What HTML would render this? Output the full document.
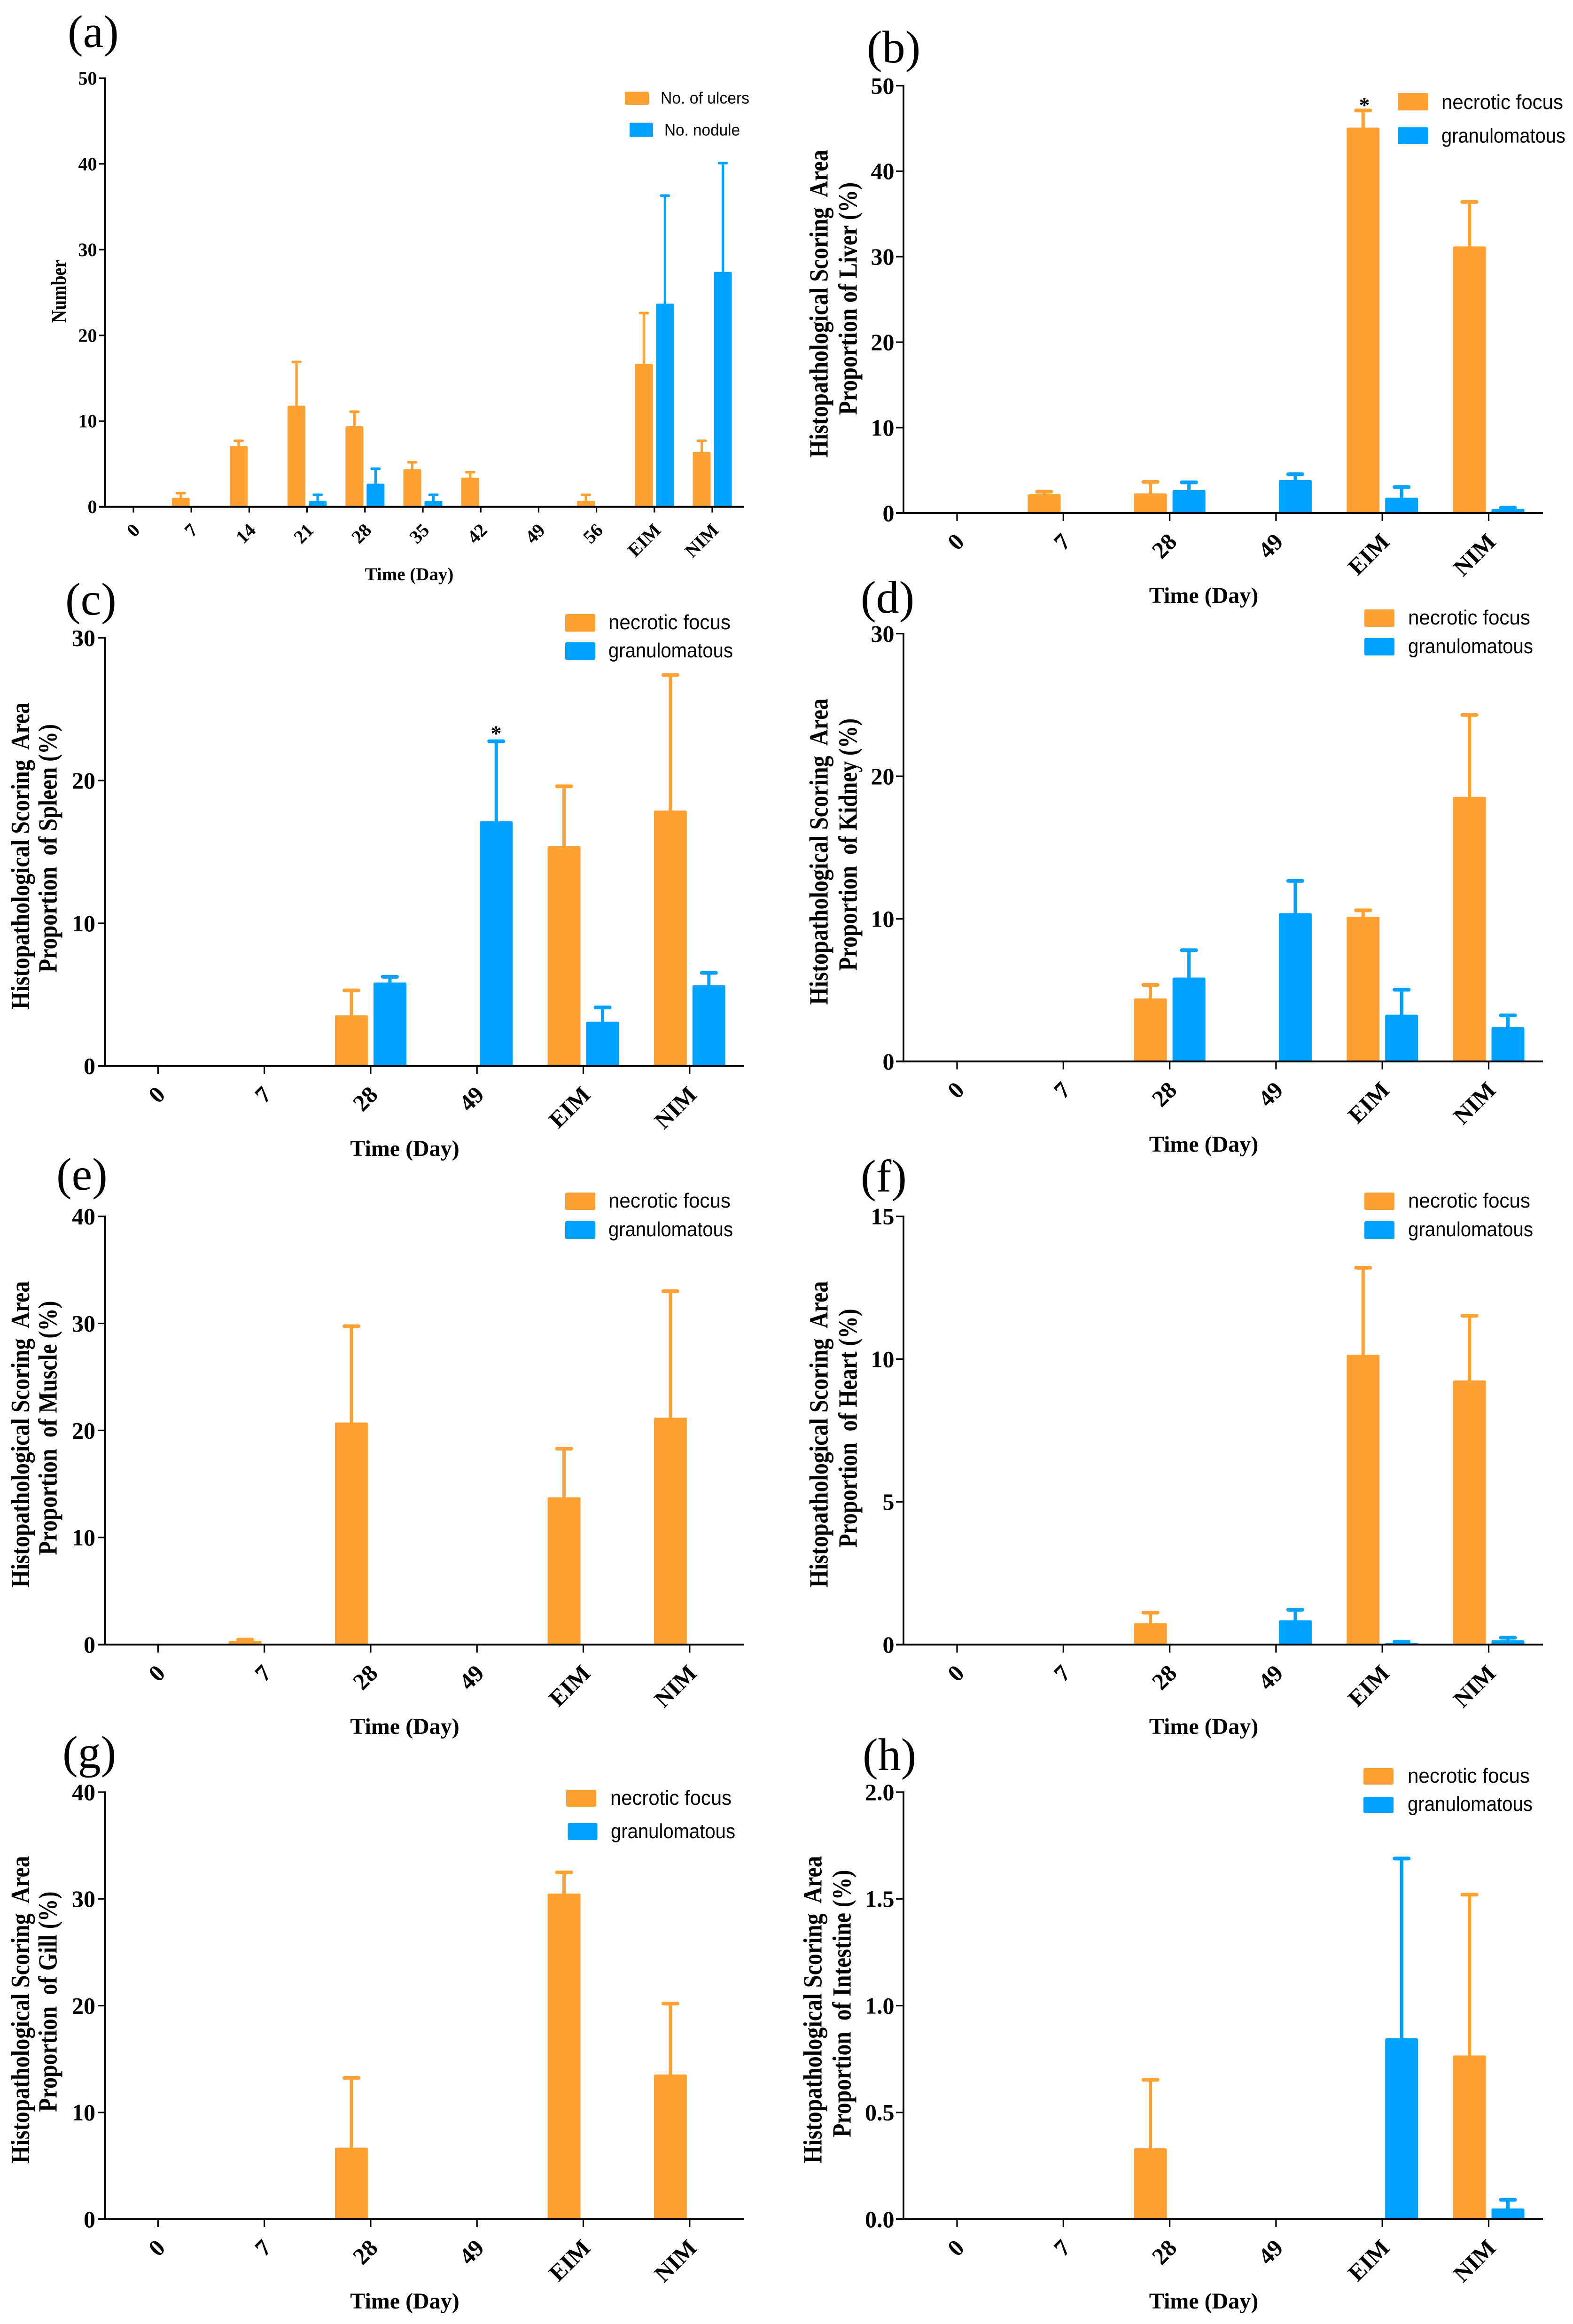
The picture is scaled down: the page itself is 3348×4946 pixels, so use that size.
<!DOCTYPE html>
<html lang="en">
<head>
<meta charset="utf-8">
<title>Ulcer, nodule and histopathological scoring charts</title>
<style>
html,body{margin:0;padding:0;background:#fff;}
svg{display:block;}
text{white-space:pre;}
.serif{font-family:"Liberation Serif",serif;}
.bold{font-weight:bold;fill:#000;}
.sans{font-family:"Liberation Sans",sans-serif;fill:#000;}
</style>
</head>
<body>
<svg id="figure" xmlns="http://www.w3.org/2000/svg" width="3348" height="4946" viewBox="0 0 3348 4946"></svg>
<script>
// ---- Categories and tick labels ----
const daysFull = ['0','7','14','21','28','35','42','49','56','EIM','NIM'];
const daysShort = ['0','7','28','49','EIM','NIM'];
const ticksA = [0,10,20,30,40,50];
const ticksB = [0,10,20,30,40,50];
const ticksC = [0,10,20,30];
const ticksD = [0,10,20,30];
const ticksE = [0,10,20,30,40];
const ticksF = [0,5,10,15];
const ticksG = [0,10,20,30,40];
const ticksH = [0,0.5,1,1.5,2];
const tickLabelsH = ['0.0','0.5','1.0','1.5','2.0'];

// ---- (a) Number of lesions ----
const ulcerMean  = [0,1.05,7.1,11.8,9.4,4.4,3.4,0,0.7,16.7,6.4];
const ulcerUpper = [0,1.6,7.7,16.9,11.1,5.2,4.05,0,1.4,22.6,7.7];
const noduleMean  = [0,0,0,0.7,2.7,0.7,0,0,0,23.7,27.4];
const noduleUpper = [0,0,0,1.4,4.45,1.4,0,0,0,36.3,40.1];

// ---- (b) Liver ----
const liverNecrotic = [0,2.2,2.3,0,45.1,31.2];
const liverNecroticUpper = [0,2.5,3.65,0,47.1,36.4];
const liverGranulomatous = [0,0,2.7,3.87,1.8,0.5];
const liverGranulomatousUpper = [0,0,3.6,4.55,3.05,0.63];

// ---- (c) Spleen ----
const spleenNecrotic = [0,0,3.55,0,15.4,17.9];
const spleenNecroticUpper = [0,0,5.3,0,19.6,27.4];
const spleenGranulomatous = [0,0,5.85,17.15,3.1,5.66];
const spleenGranulomatousUpper = [0,0,6.25,22.75,4.1,6.53];

// ---- (d) Kidney ----
const kidneyNecrotic = [0,0,4.42,0,10.14,18.56];
const kidneyNecroticUpper = [0,0,5.37,0,10.6,24.3];
const kidneyGranulomatous = [0,0,5.88,10.4,3.28,2.4];
const kidneyGranulomatousUpper = [0,0,7.8,12.66,5.03,3.23];

// ---- (e) Muscle ----
const muscleNecrotic = [0,0.35,20.74,0,13.76,21.2];
const muscleNecroticUpper = [0,0.46,29.74,0,18.3,33];
const muscleGranulomatous = [0,0,0,0,0,0];
const muscleGranulomatousUpper = [0,0,0,0,0,0];

// ---- (f) Heart ----
const heartNecrotic = [0,0,0.75,0,10.15,9.25];
const heartNecroticUpper = [0,0,1.12,0,13.2,11.52];
const heartGranulomatous = [0,0,0,0.85,0.06,0.15];
const heartGranulomatousUpper = [0,0,0,1.22,0.1,0.24];

// ---- (g) Gill ----
const gillNecrotic = [0,0,6.7,0,30.5,13.55];
const gillNecroticUpper = [0,0,13.24,0,32.48,20.2];
const gillGranulomatous = [0,0,0,0,0,0];
const gillGranulomatousUpper = [0,0,0,0,0,0];

// ---- (h) Intestine ----
const intestineNecrotic = [0,0,0.332,0,0,0.767];
const intestineNecroticUpper = [0,0,0.653,0,0,1.52];
const intestineGranulomatous = [0,0,0,0,0.847,0.05];
const intestineGranulomatousUpper = [0,0,0,0,1.689,0.091];

const ORANGE = '#FFA033';
const BLUE = '#00A2FF';
const NS = 'http://www.w3.org/2000/svg';
const figure = document.getElementById('figure');

// Layout geometry for each panel (styling only, no data values)
const leftCol  = {axisX:223.3, axisLeft:208,  axisRight:1584, firstTick:336.3, step:226.3, labelEnd:203};
const rightCol = {axisX:1923,  axisLeft:1907, axisRight:3284, firstTick:2037,  step:226.3, labelEnd:1903.5};

const panels = [
 {id:'a', col:{axisX:223.3,axisLeft:211,axisRight:1584,firstTick:284,step:123.2,labelEnd:206.5}, small:true,
  y0:1078.7, yTop:166.3, yMax:50, ticks:ticksA, cats:daysFull,
  s1:ulcerMean, u1:ulcerUpper, s2:noduleMean, u2:noduleUpper,
  letter:{x:144,y:100}, timeX:871, timeY:1235,
  titles:[{t:'Number',x:140,b:687,l:134}],
  legend:[{t:'No. of ulcers',c:ORANGE,sx:1330,sw:51,sy:195,sh:28,tx:1406,ty:220.7,l:189,fs:35},
          {t:'No. nodule',c:BLUE,sx:1340,sw:50,sy:261,sh:31,tx:1414,ty:288.7,l:161,fs:35}]},
 {id:'b', col:rightCol, y0:1092, yTop:182.4, yMax:50, ticks:ticksB, cats:daysShort,
  s1:liverNecrotic, u1:liverNecroticUpper, s2:liverGranulomatous, u2:liverGranulomatousUpper,
  letter:{x:1845,y:133}, timeX:2562, timeY:1283, star:{x:2904,y:239},
  titles:[{t:'Histopathological Scoring  Area',x:1761.5,b:974,l:655},{t:'Proportion of Liver (%)',x:1823.5,b:883,l:495}],
  legend:[{t:'necrotic focus',c:ORANGE,sx:2975,sw:65,sy:198,sh:37,tx:3068,ty:232,l:259,fs:44},
          {t:'granulomatous',c:BLUE,sx:2975,sw:65,sy:271,sh:36,tx:3068,ty:303.4,l:264,fs:44}]},
 {id:'c', col:leftCol, y0:2268.7, yTop:1357.4, yMax:30, ticks:ticksC, cats:daysShort,
  s1:spleenNecrotic, u1:spleenNecroticUpper, s2:spleenGranulomatous, u2:spleenGranulomatousUpper,
  letter:{x:139,y:1308}, timeX:861.5, timeY:2460, star:{x:1056,y:1576},
  titles:[{t:'Histopathological Scoring  Area',x:62,b:2148,l:653},{t:'Proportion  of Spleen (%)',x:120.6,b:2070,l:529}],
  legend:[{t:'necrotic focus',c:ORANGE,sx:1203,sw:64,sy:1307,sh:37.5,tx:1295,ty:1339,l:260,fs:44},
          {t:'granulomatous',c:BLUE,sx:1203,sw:64,sy:1367,sh:37,tx:1295,ty:1399,l:265,fs:44}]},
 {id:'d', col:rightCol, y0:2259, yTop:1348.6, yMax:30, ticks:ticksD, cats:daysShort,
  s1:kidneyNecrotic, u1:kidneyNecroticUpper, s2:kidneyGranulomatous, u2:kidneyGranulomatousUpper,
  letter:{x:1832,y:1304}, timeX:2562, timeY:2451,
  titles:[{t:'Histopathological Scoring  Area',x:1761.5,b:2138.5,l:652},{t:'Proportion  of Kidney (%)',x:1823.5,b:2066,l:537}],
  legend:[{t:'necrotic focus',c:ORANGE,sx:2904,sw:64,sy:1297,sh:37,tx:2997,ty:1329,l:260,fs:44},
          {t:'granulomatous',c:BLUE,sx:2904,sw:64,sy:1358,sh:37,tx:2997,ty:1390,l:266,fs:44}]},
 {id:'e', col:leftCol, y0:3500, yTop:2588.7, yMax:40, ticks:ticksE, cats:daysShort,
  s1:muscleNecrotic, u1:muscleNecroticUpper, s2:muscleGranulomatous, u2:muscleGranulomatousUpper,
  letter:{x:120,y:2532}, timeX:861.5, timeY:3690,
  titles:[{t:'Histopathological Scoring  Area',x:62,b:3378.6,l:652},{t:'Proportion  of Muscle (%)',x:120.6,b:3309.5,l:541}],
  legend:[{t:'necrotic focus',c:ORANGE,sx:1203,sw:64,sy:2538,sh:37,tx:1295,ty:2570,l:260,fs:44},
          {t:'granulomatous',c:BLUE,sx:1203,sw:64,sy:2599,sh:38,tx:1295,ty:2631,l:265,fs:44}]},
 {id:'f', col:rightCol, y0:3500, yTop:2588.7, yMax:15, ticks:ticksF, cats:daysShort,
  s1:heartNecrotic, u1:heartNecroticUpper, s2:heartGranulomatous, u2:heartGranulomatousUpper,
  letter:{x:1832,y:2536}, timeX:2562, timeY:3690,
  titles:[{t:'Histopathological Scoring  Area',x:1761.5,b:3378.6,l:652},{t:'Proportion  of Heart (%)',x:1823.5,b:3293.4,l:508}],
  legend:[{t:'necrotic focus',c:ORANGE,sx:2904,sw:64,sy:2538,sh:37,tx:2997,ty:2570,l:260,fs:44},
          {t:'granulomatous',c:BLUE,sx:2904,sw:64,sy:2599,sh:38,tx:2997,ty:2631,l:266,fs:44}]},
 {id:'g', col:leftCol, y0:4723, yTop:3814, yMax:40, ticks:ticksG, cats:daysShort,
  s1:gillNecrotic, u1:gillNecroticUpper, s2:gillGranulomatous, u2:gillGranulomatousUpper,
  letter:{x:133,y:3762}, timeX:861.5, timeY:4913,
  titles:[{t:'Histopathological Scoring  Area',x:62,b:4604,l:654},{t:'Proportion  of Gill (%)',x:120.6,b:4494.6,l:469}],
  legend:[{t:'necrotic focus',c:ORANGE,sx:1205,sw:64,sy:3809,sh:36,tx:1299,ty:3841,l:258,fs:44},
          {t:'granulomatous',c:BLUE,sx:1208.5,sw:63,sy:3880,sh:36,tx:1300,ty:3912,l:265,fs:44}]},
 {id:'h', col:rightCol, y0:4723, yTop:3814, yMax:2, ticks:ticksH, tickLabels:tickLabelsH, cats:daysShort,
  s1:intestineNecrotic, u1:intestineNecroticUpper, s2:intestineGranulomatous, u2:intestineGranulomatousUpper,
  letter:{x:1836,y:3767}, timeX:2562, timeY:4913,
  titles:[{t:'Histopathological Scoring  Area',x:1748.7,b:4604,l:654},{t:'Proportion  of Intestine (%)',x:1810.7,b:4548.6,l:569}],
  legend:[{t:'necrotic focus',c:ORANGE,sx:2902,sw:64,sy:3763,sh:35,tx:2996,ty:3794,l:260,fs:44},
          {t:'granulomatous',c:BLUE,sx:2902,sw:64,sy:3824,sh:35,tx:2996,ty:3854,l:266,fs:44}]}
];

function make(tag, attrs, parent, text){
  const el = document.createElementNS(NS, tag);
  for (const k in attrs) el.setAttribute(k, attrs[k]);
  if (text !== undefined) el.textContent = text;
  parent.appendChild(el);
  return el;
}
function xScale(p, i){ return p.col.firstTick + i * p.col.step; }
function yScale(p, v){ return p.y0 - (v / p.yMax) * (p.y0 - p.yTop); }

function drawSeries(p, g, values, uppers, color, sign, seriesName){
  const barW   = p.small ? 38 : 70;
  const centre = p.small ? 22.5 : 41;
  const capW   = p.small ? 22 : 38;
  const stemW  = p.small ? 5.2 : 7;
  const capH   = p.small ? 5.6 : 8;
  values.forEach(function(v, i){
    if (v <= 0) return;
    const cx = xScale(p, i) + sign * centre;
    const topY = yScale(p, v);
    const upY = yScale(p, uppers[i]);
    const stem = make('rect', {x:cx-stemW/2, y:upY, width:stemW, height:Math.max(0, topY-upY+2), fill:color}, g);
    
    
    const cap = make('rect', {x:cx-capW/2, y:upY-capH/2, width:capW, height:capH, rx:capH/2, fill:color}, g);
    
    
    const bar = make('path', {d:'M'+(cx-barW/2)+' '+p.y0+'V'+(topY+3)+'q0 -3 3 -3H'+(cx+barW/2-3)+'q3 0 3 3V'+p.y0+'Z', fill:color}, g);
    
    
  });
}

panels.forEach(function(p){
  const c = p.col;
  const g = make('g', {}, figure);
  
  
  const fs = p.small ? 40 : 50;
  const timeFs = p.small ? 39 : 48;

  // panel letter
  const letter = make('text', {x:p.letter.x, y:p.letter.y, 'font-size':98, class:'serif', fill:'#000'}, g, '(' + p.id + ')');
  
  

  // marks
  const seriesNames = p.id === 'a' ? ['ulcers','nodule'] : ['necrotic-focus','granulomatous'];
  drawSeries(p, g, p.s1, p.u1, ORANGE, -1, seriesNames[0]);
  drawSeries(p, g, p.s2, p.u2, BLUE, 1, seriesNames[1]);

  // y axis
  const yAxis = make('rect', {x:c.axisX-1.8, y:p.yTop-1.7, width:3.6, height:p.y0-p.yTop+3.4, fill:'#000'}, g);
  
  
  p.ticks.forEach(function(v, i){
    const y = yScale(p, v);
    if (v !== 0) {
      const t = make('rect', {x:c.axisLeft, y:y-1.6, width:c.axisX-c.axisLeft, height:3.2, fill:'#000'}, g);
      
      
    }
    const label = p.tickLabels ? p.tickLabels[i] : String(v);
    const tl = make('text', {x:c.labelEnd, y:y+fs*0.338, 'text-anchor':'end', 'font-size':fs, class:'serif bold'}, g, label);
    
    
  });

  // x axis
  const xAxis = make('rect', {x:c.axisLeft, y:p.y0-2, width:c.axisRight-c.axisLeft, height:4, fill:'#000'}, g);
  
  
  p.cats.forEach(function(cat, i){
    const x = xScale(p, i);
    const t = make('rect', {x:x-1.6, y:p.y0, width:3.2, height:p.small ? 12 : 17, fill:'#000'}, g);
    
    
    const ex = x + (p.small ? 16 : 18);
    const ey = p.y0 + (p.small ? 52 : 64);
    const tl = make('text', {transform:'translate('+ex+' '+ey+') rotate(-45)', 'text-anchor':'end', 'font-size':fs, class:'serif bold'}, g, cat);
    
    
  });

  // axis titles
  const timeTitle = make('text', {x:p.timeX, y:p.timeY, 'text-anchor':'middle', 'font-size':timeFs, class:'serif bold'}, g, 'Time (Day)');
  
  
  p.titles.forEach(function(tt){
    const yt = make('text', {transform:'translate('+tt.x+' '+tt.b+') rotate(-90) scale(1 1.17)', 'font-size':p.small ? 38 : 48, textLength:tt.l, lengthAdjust:'spacingAndGlyphs', class:'serif bold'}, g, tt.t);
    
    
  });

  // significance marker
  if (p.star) {
    const st = make('text', {x:p.star.x, y:p.star.y, 'text-anchor':'middle', 'font-size':46, class:'serif bold'}, g, '*');
    
    
  }

  // legend
  p.legend.forEach(function(l){
    const sw = make('rect', {x:l.sx, y:l.sy, width:l.sw, height:l.sh, rx:3, fill:l.c}, g);
    
    
    const lt = make('text', {x:l.tx, y:l.ty, 'font-size':l.fs, textLength:l.l, lengthAdjust:'spacingAndGlyphs', class:'sans'}, g, l.t);
    
    
  });
});
</script>
</body>
</html>
